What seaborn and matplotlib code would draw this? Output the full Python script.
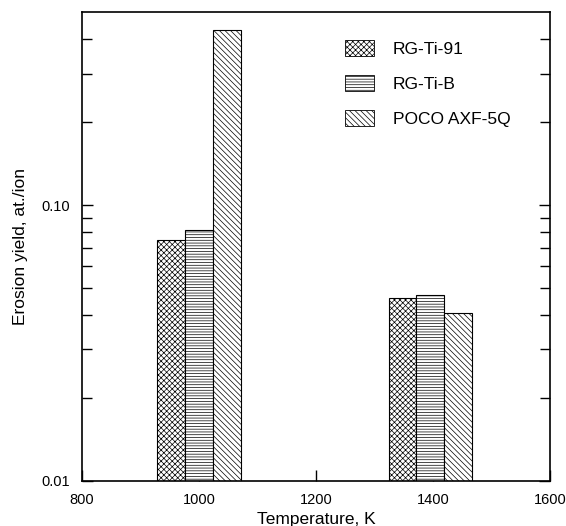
import numpy as np
import pandas as pd
import seaborn as sns
import matplotlib.pyplot as plt
from matplotlib.patches import Patch
from matplotlib.ticker import FixedLocator, NullFormatter

# values
materials = ['RG-Ti-91', 'RG-Ti-B', 'POCO AXF-5Q']
temperatures = [1000, 1395]
yield_1000 = [0.0746, 0.0812, 0.43]
yield_1400 = [0.046, 0.0472, 0.0406]
hatches = ['xxxxxx', '------', '\\\\\\\\\\\\']

df = pd.DataFrame({
    'Temperature': [temperatures[0]] * 3 + [temperatures[1]] * 3,
    'Material': materials * 2,
    'Yield': yield_1000 + yield_1400,
})

sns.set_style('ticks')
plt.rcParams['font.family'] = ['Liberation Sans', 'DejaVu Sans']
plt.rcParams['hatch.linewidth'] = 0.5
plt.rcParams['text.color'] = 'black'
plt.rcParams['axes.labelcolor'] = 'black'
plt.rcParams['xtick.color'] = 'black'
plt.rcParams['ytick.color'] = 'black'
plt.rcParams['axes.edgecolor'] = 'black'

fig = plt.figure(figsize=(5.66, 5.26), dpi=100)
ax = fig.add_axes([0.145, 0.0856, 0.827, 0.891])

sns.barplot(data=df, x='Temperature', y='Yield', hue='Material',
            hue_order=materials, native_scale=True, width=0.36,
            palette=['white'] * 3, edgecolor='black', linewidth=0.8,
            errorbar=None, legend=False, ax=ax)

for cont, h in zip(ax.containers, hatches):
    for bar in cont:
        bar.set_hatch(h)

ax.set_yscale('log')
ax.set_ylim(0.01, 0.5)
ax.set_xlim(800, 1600)

ax.set_xticks([800, 1000, 1200, 1400, 1600])
ax.set_xticklabels(['800', '1000', '1200', '1400', '1600'])
ax.yaxis.set_major_locator(FixedLocator([0.01, 0.1]))
ax.set_yticklabels(['0.01', '0.10'])
minor = [k * 0.01 for k in range(2, 10)] + [k * 0.1 for k in range(2, 5)]
ax.yaxis.set_minor_locator(FixedLocator(minor))
ax.yaxis.set_minor_formatter(NullFormatter())

ax.tick_params(axis='both', which='major', direction='in', length=8,
               width=1, labelsize=10.5, pad=9)
ax.tick_params(axis='y', which='both', right=True, direction='in')
ax.tick_params(axis='y', which='minor', length=7, width=1)
ax.tick_params(axis='x', top=False)
for s in ax.spines.values():
    s.set_linewidth(1.2)

ax.set_xlabel('Temperature, K', fontsize=12.5, labelpad=3)
ax.set_ylabel('Erosion yield, at./ion', fontsize=12.5, labelpad=9)

handles = [Patch(facecolor='white', edgecolor='black', hatch=h, linewidth=0.6)
           for h in hatches]
ax.legend(handles, materials, loc='upper left', bbox_to_anchor=(0.562, 0.94),
          frameon=False, fontsize=12.5, handlelength=1.65, handleheight=1.0,
          handletextpad=1.1, labelspacing=1.05, borderpad=0, borderaxespad=0)

fig.savefig('out.png', dpi=100)
